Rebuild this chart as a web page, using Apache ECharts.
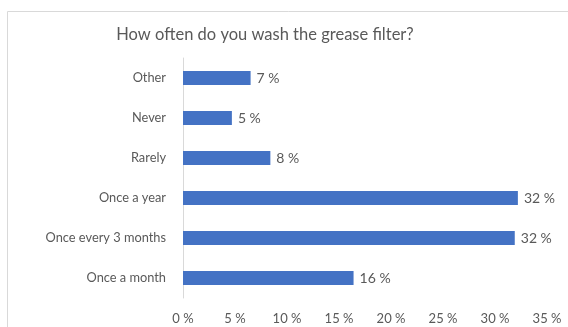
<!DOCTYPE html>
<html><head><meta charset="utf-8">
<script src="https://cdn.jsdelivr.net/npm/echarts@6/dist/echarts.min.js"></script>
<style>html,body{margin:0;padding:0;background:#fff}#c{width:568px;height:327px}</style>
</head><body><div id="c"></div>
<script>
const titleText = "How often do you wash the grease filter?";
const categories = ["Once a month", "Once every 3 months", "Once a year", "Rarely", "Never", "Other"];
const values = [16.4, 31.9, 32.2, 8.4, 4.7, 6.5];
const labels = ["16 %", "32 %", "32 %", "8 %", "5 %", "7 %"];
const tickLabels = ["0 %", "5 %", "10 %", "15 %", "20 %", "25 %", "30 %", "35 %"];

const chart = echarts.init(document.getElementById('c'));
const font = 'Lato';
chart.setOption({
  animation: false,
  graphic: [{type:'rect', shape:{x:7.5,y:11.5,width:620,height:400}, style:{fill:'none', stroke:'#d9d9d9', lineWidth:1}, silent:true}],
  title: {text: titleText, left: 260, top: 21, textAlign:'center',
    textStyle: {fontFamily: font, fontSize: 16.5, fontWeight: 'normal', color: '#595959'}},
  grid: {left: 183, right: 21, top: 58, bottom: 29, containLabel: false},
  xAxis: {type: 'value', min: 0, max: 35, interval: 5,
    axisLine: {show: false}, axisTick: {show: false}, splitLine: {show: false},
    axisLabel: {margin: 14, fontFamily: font, fontSize: 13, color: '#595959',
      formatter: (v) => tickLabels[Math.round(v / 5)]}},
  yAxis: {type: 'category', data: categories,
    axisLine: {show: true, lineStyle: {color: '#d9d9d9'}}, axisTick: {show: false},
    axisLabel: {margin: 17, fontFamily: font, fontSize: 12.8, color: '#595959'}},
  series: [{type: 'bar', data: values, barWidth: 14,
    itemStyle: {color: '#4472C4'},
    label: {show: true, position: 'right', distance: 6, fontFamily: font, fontSize: 14, color: '#595959',
      formatter: (p) => labels[p.dataIndex]}}]
});
</script></body></html>
